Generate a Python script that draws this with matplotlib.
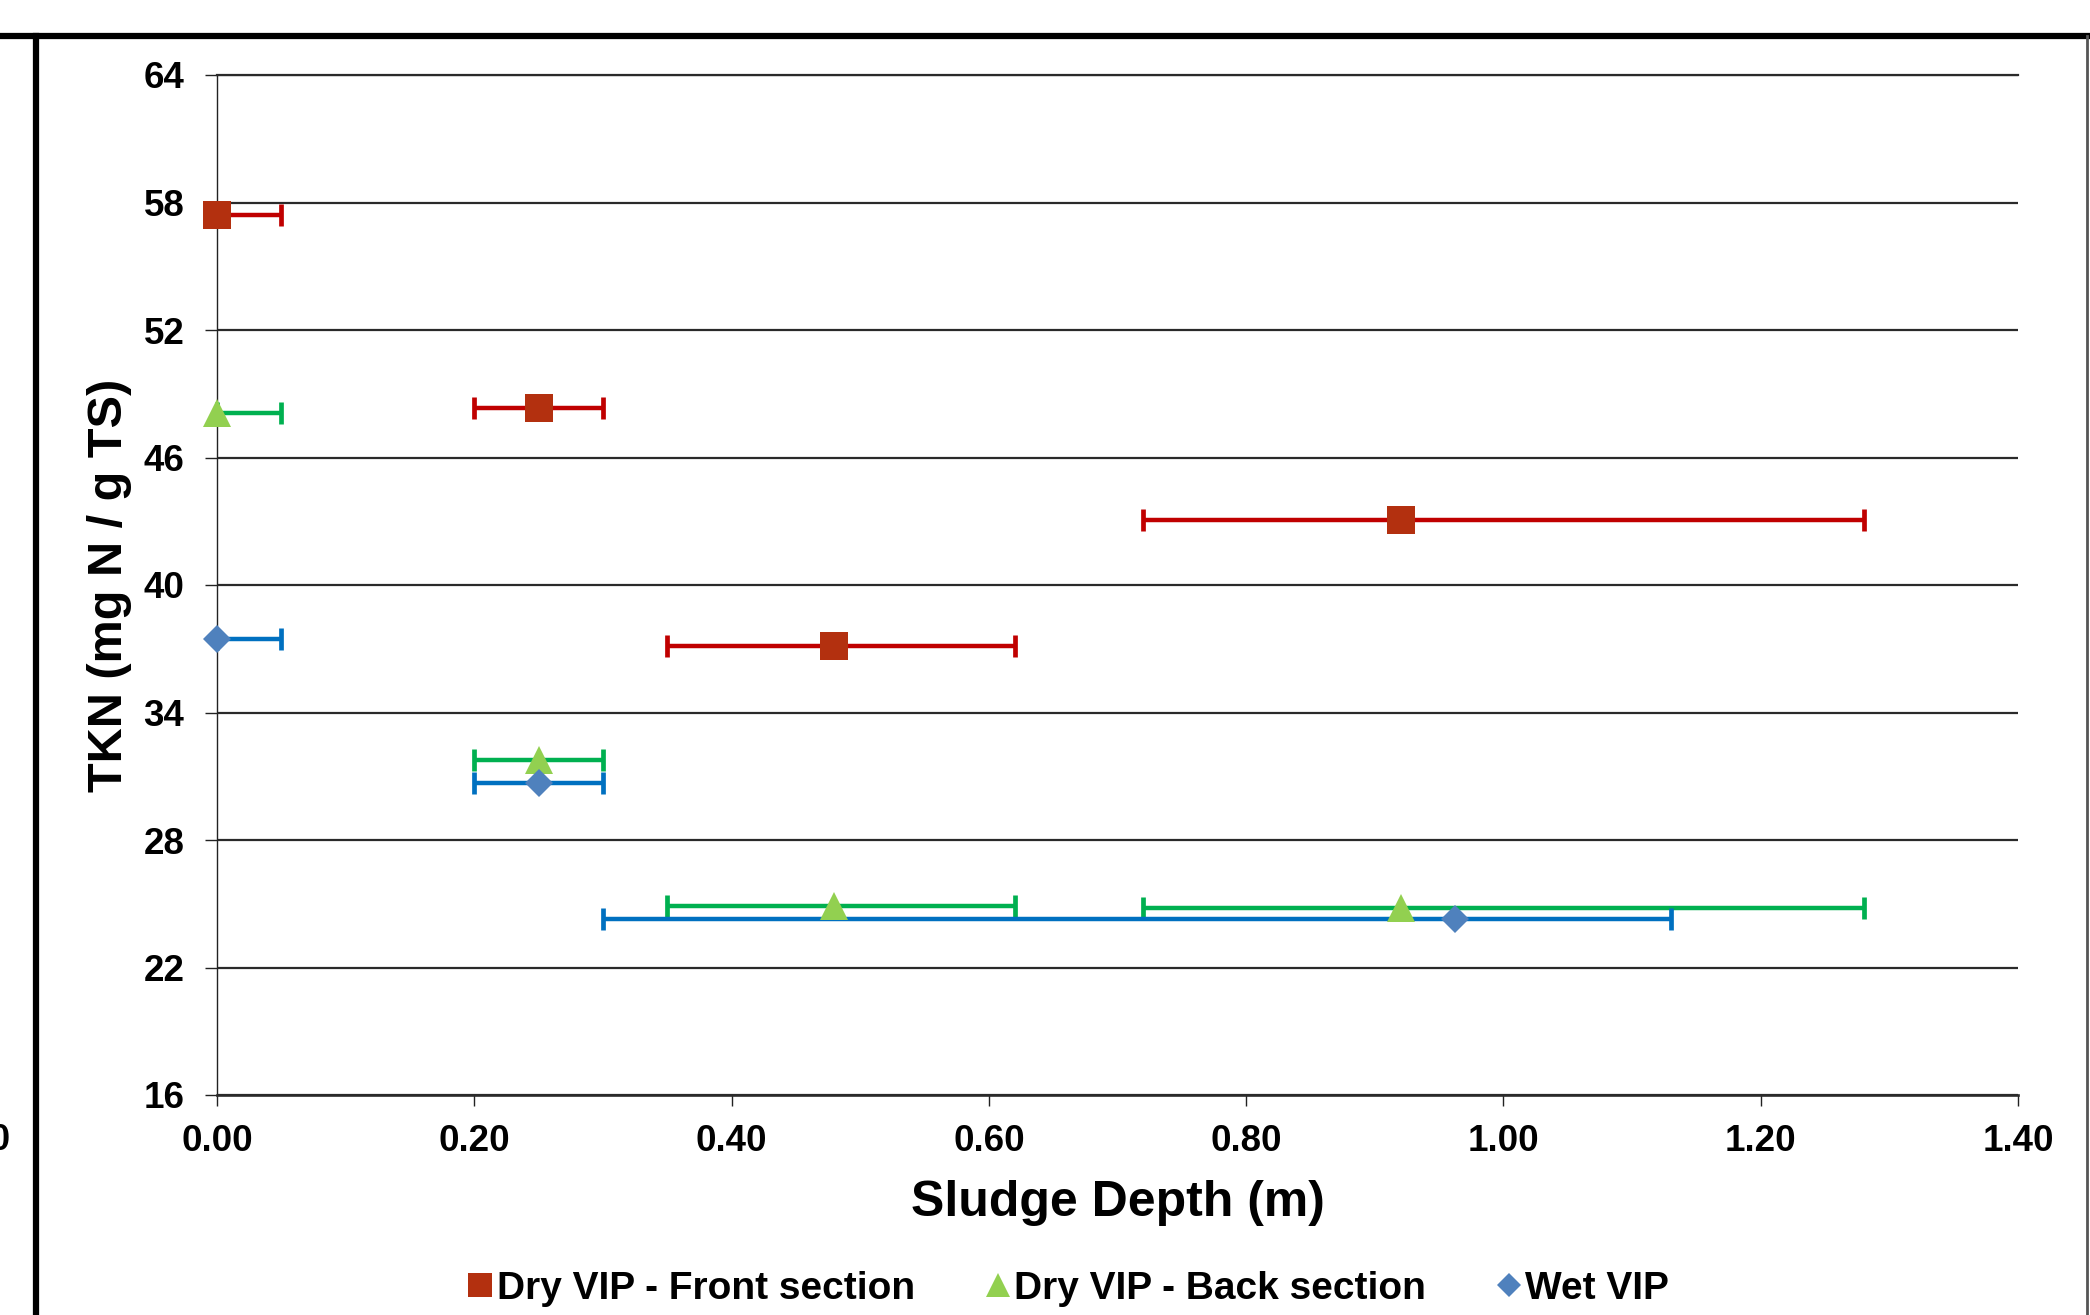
import numpy as np
import matplotlib
matplotlib.use("Agg")
import matplotlib.pyplot as plt
from matplotlib.lines import Line2D

plt.rcParams['font.family'] = ['Liberation Sans', 'DejaVu Sans']
plt.rcParams['font.weight'] = 'bold'

# dry VIP front section
depth_front = [0.0, 0.25, 0.48, 0.92]
tkn_front = [57.4, 48.35, 37.15, 43.05]
top_front = [0.0, 0.20, 0.35, 0.72]
bot_front = [0.05, 0.30, 0.62, 1.28]

# dry VIP back section
depth_back = [0.0, 0.25, 0.48, 0.92]
tkn_back = [48.1, 31.75, 24.9, 24.8]
top_back = [0.0, 0.20, 0.35, 0.72]
bot_back = [0.05, 0.30, 0.62, 1.28]

# wet VIP
depth_wet = [0.0, 0.25, 0.962]
tkn_wet = [37.47, 30.7, 24.28]
top_wet = [0.0, 0.20, 0.30]
bot_wet = [0.05, 0.30, 1.13]

y_ticks = [16, 22, 28, 34, 40, 46, 52, 58, 64]
x_ticks = [0.0, 0.2, 0.4, 0.6, 0.8, 1.0, 1.2, 1.4]

labels = ['Dry VIP - Front section', 'Dry VIP - Back section', 'Wet VIP']

fig = plt.figure(figsize=(20.9, 13.15), dpi=100)
ax = fig.add_axes([217/2090, 1-1095/1315, 1801/2090, 1020/1315])

series = [
    (depth_front, tkn_front, top_front, bot_front, 's', 20, '#B3300F', '#C00000'),
    (depth_back, tkn_back, top_back, bot_back, '^', 20, '#92D050', '#00B050'),
    (depth_wet, tkn_wet, top_wet, bot_wet, 'D', 14.5, '#4F81BD', '#0070C0'),
]
legend_sizes = {'s': 17, '^': 17, 'D': 12}

handles = []
for x, y, lo, hi, mk, ms, mcol, ecol in series:
    x = np.array(x)
    xerr = [x - np.array(lo), np.array(hi) - x]
    ax.errorbar(x, y, xerr=xerr, fmt='none', ecolor=ecol, elinewidth=3.2,
                capsize=8, capthick=3.4, zorder=3, clip_on=False)
    ax.plot(x, y, linestyle='none', marker=mk, markersize=ms, color=mcol,
            markeredgewidth=0, zorder=4, clip_on=False)
    handles.append(Line2D([], [], linestyle='none', marker=mk, color=mcol,
                          markeredgewidth=0, markersize=legend_sizes[mk]))

ax.set_xlim(0, 1.4)
ax.set_ylim(16, 64)
ax.set_xticks(x_ticks)
ax.set_xticklabels(['%.2f' % v for v in x_ticks])
ax.set_yticks(y_ticks)
ax.yaxis.grid(True, color='#2a2a2a', linewidth=1.6)
ax.set_axisbelow(True)

ax.spines['right'].set_visible(False)
ax.spines['top'].set_color('#2a2a2a')
ax.spines['top'].set_linewidth(1.6)
ax.spines['bottom'].set_color('#2a2a2a')
ax.spines['bottom'].set_linewidth(1.9)
ax.spines['left'].set_color('#222222')
ax.spines['left'].set_linewidth(1.0)

ax.tick_params(axis='y', direction='out', length=8.5, width=1, pad=15,
               labelsize=26.5, color='#222222')
ax.tick_params(axis='x', direction='out', length=8, width=1, pad=13,
               labelsize=26.5, color='#222222')
for t in ax.get_xticklabels() + ax.get_yticklabels():
    t.set_fontweight('bold')

ax.set_xlabel('Sludge Depth (m)', fontsize=36, fontweight='bold')
ax.set_ylabel('TKN (mg N / g TS)', fontsize=35, fontweight='bold')
ax.xaxis.set_label_coords(0.5, -0.083)
ax.yaxis.set_label_coords(-0.047, 0.5)

fig.legend(handles, labels, loc='center', bbox_to_anchor=(0.5112, 1-1289/1315),
           ncol=3, frameon=False, handlelength=0.65,
           handletextpad=0.1, columnspacing=1.8, prop={'weight': 'bold', 'size': 28})

# outer chart frame
fig.add_artist(Line2D([0, 1], [1-36/1315, 1-36/1315], color='black', linewidth=4.5))
fig.add_artist(Line2D([36/2090, 36/2090], [0, 1-36/1315], color='black', linewidth=4.5))
fig.add_artist(Line2D([2087/2090, 2087/2090], [0, 1-36/1315], color='#555555', linewidth=2))
fig.text(0.0, 1-1140/1315, '0', ha='center', va='center', fontsize=26, fontweight='bold')

fig.savefig('out.png', dpi=100, facecolor='white')
